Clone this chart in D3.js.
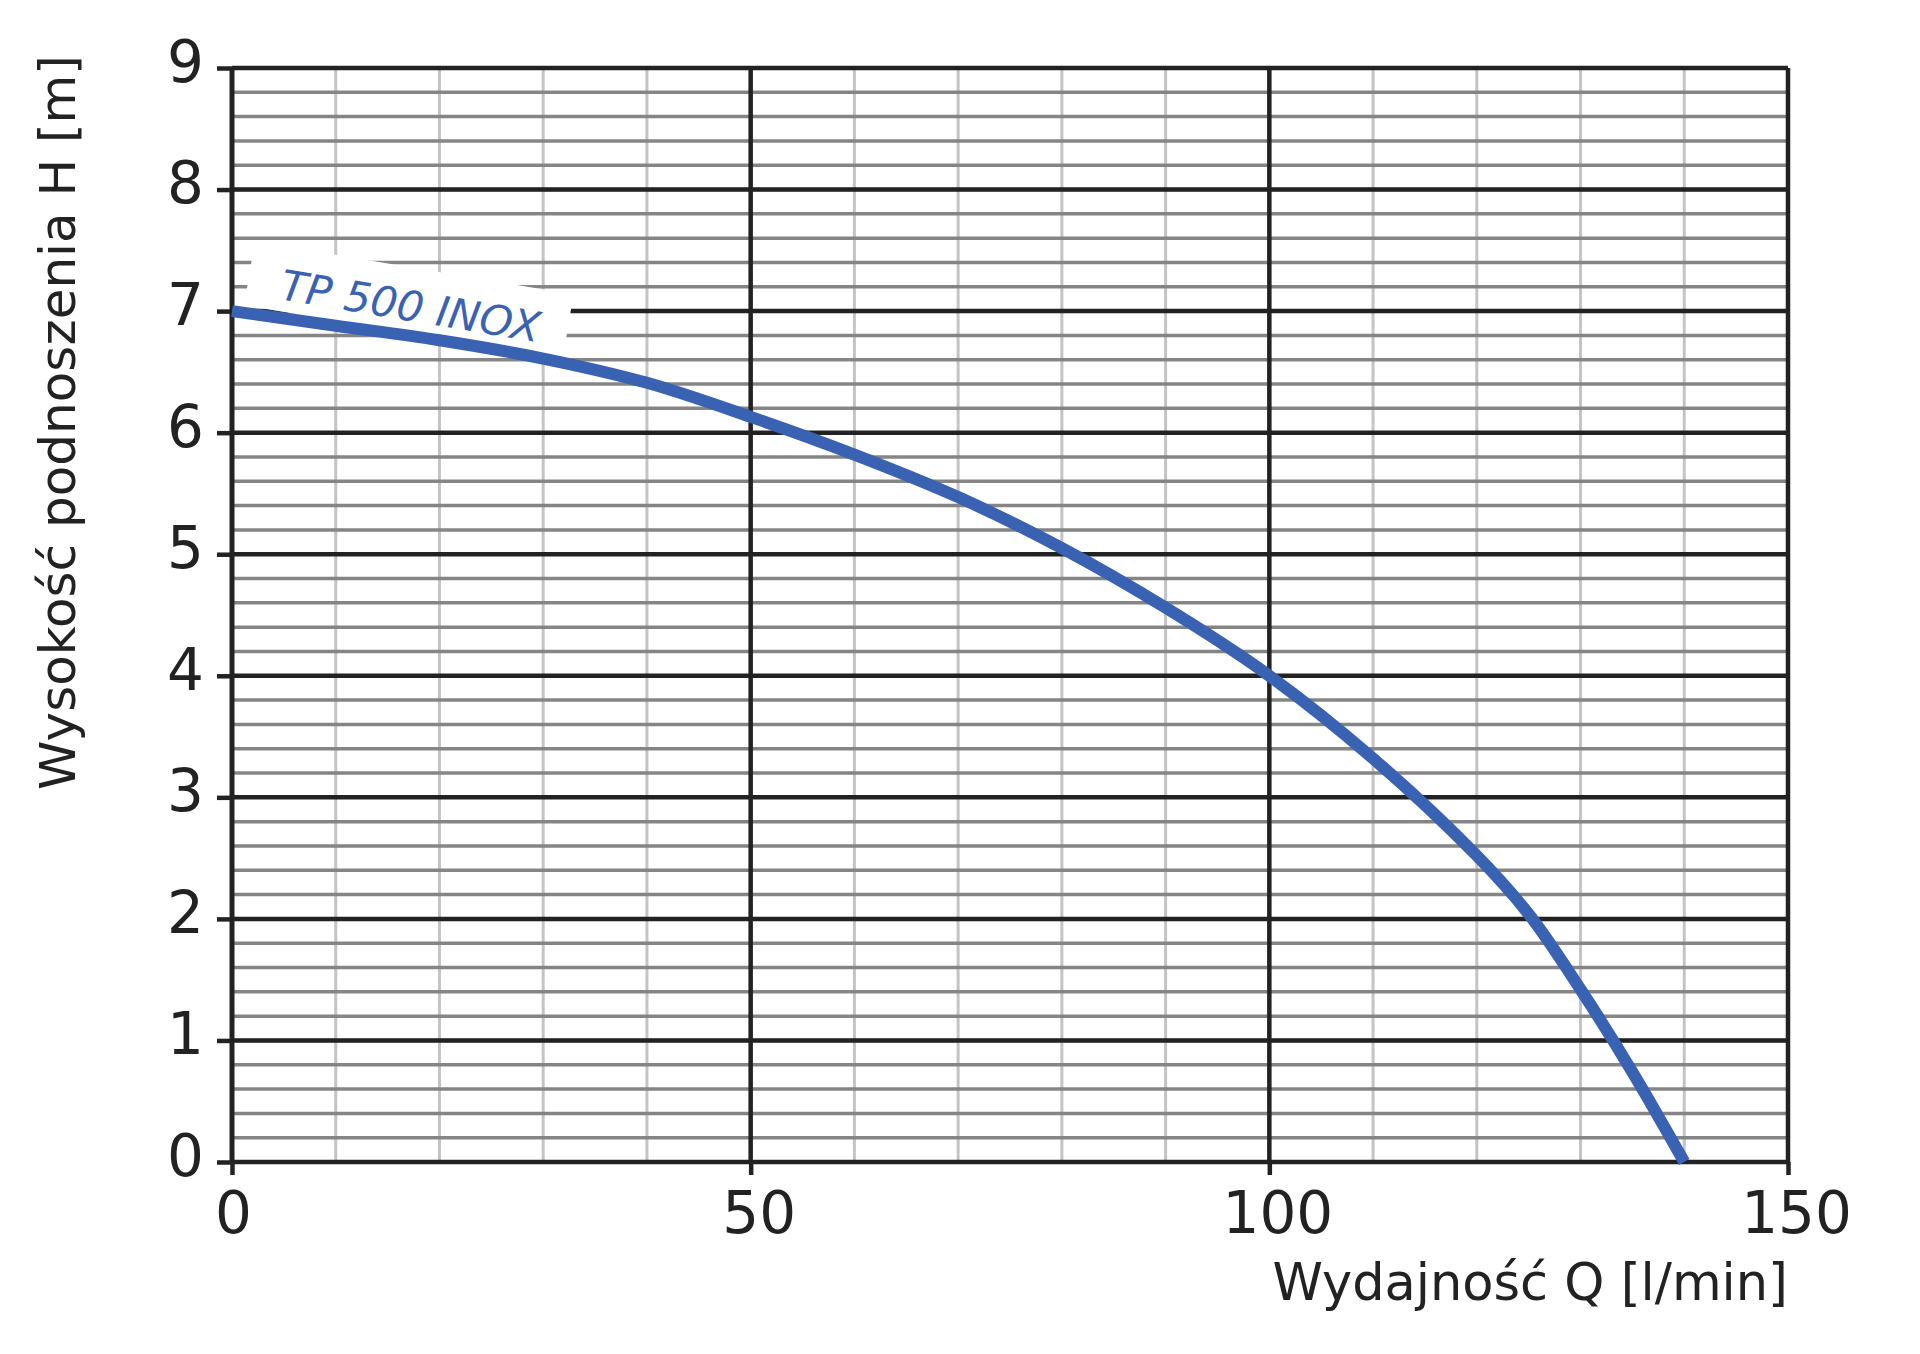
<!DOCTYPE html>
<html>
<head>
<meta charset="utf-8">
<style>
    body { margin: 0; background: #fff; }
    text { font-family: "DejaVu Sans", sans-serif; fill: #222; }
</style>
</head>
<body>
    <svg id="chart" width="1920" height="1354"></svg>
    <script src="https://d3js.org/d3.v7.min.js"></script>
    <script>
        // pump curve
        const flowQ = [0, 10, 20, 30, 40, 50, 60, 70, 80, 90, 100, 110, 120, 125, 130, 135, 140];
        const headH = [7.0, 6.88, 6.76, 6.61, 6.41, 6.13, 5.82, 5.47, 5.05, 4.56, 4.0, 3.32, 2.52, 2.04, 1.42, 0.74, 0.0];
        const xTickLabels = [0, 50, 100, 150];
        const yTickLabels = [0, 1, 2, 3, 4, 5, 6, 7, 8, 9];
        const seriesName = "TP 500 INOX";
        const xTitle = "Wydajność Q [l/min]";
        const yTitle = "Wysokość podnoszenia H [m]";

        const margin = {top: 68, right: 132, bottom: 192, left: 232};
        const W = 1920, H = 1354;
        const w = W - margin.left - margin.right;
        const h = H - margin.top - margin.bottom;
        const blue = "#3a62b3";

        const x = d3.scaleLinear().domain([0, 150]).range([0, w]);
        const y = d3.scaleLinear().domain([0, 9]).range([h, 0]);

        const svg = d3.select("#chart");
        svg.append("rect").attr("width", W).attr("height", H).attr("fill", "#fff");
        const g = svg.append("g").attr("transform", `translate(${margin.left},${margin.top})`);

        // minor verticals every 10
        g.selectAll(".vminor").data(x.ticks(15)).enter().append("line")
            .attr("x1", d => x(d)).attr("x2", d => x(d))
            .attr("y1", 0).attr("y2", h)
            .style("stroke", "#c4c4c4").style("stroke-width", 3);

        // minor horizontals every 0.2
        g.selectAll(".hminor").data(y.ticks(45)).enter().append("line")
            .attr("x1", 0).attr("x2", w)
            .attr("y1", d => y(d)).attr("y2", d => y(d))
            .style("stroke", "#858585").style("stroke-width", 3.5);

        // major horizontals
        g.selectAll(".hmajor").data(yTickLabels).enter().append("line")
            .attr("x1", 0).attr("x2", w)
            .attr("y1", d => y(d)).attr("y2", d => y(d))
            .style("stroke", "#222").style("stroke-width", 4.5);

        // major verticals
        g.selectAll(".vmajor").data(xTickLabels).enter().append("line")
            .attr("x1", d => x(d)).attr("x2", d => x(d))
            .attr("y1", 0).attr("y2", h)
            .style("stroke", "#222").style("stroke-width", d => d === 0 ? 5 : 4.5);

        // axes: tick stubs and labels
        const yAxis = g.append("g")
            .call(d3.axisLeft(y).tickValues(yTickLabels).tickSize(15).tickPadding(13).tickSizeOuter(0));
        const xAxis = g.append("g").attr("transform", `translate(0,${h})`)
            .call(d3.axisBottom(x).tickValues(xTickLabels).tickSize(13).tickPadding(17).tickSizeOuter(0));
        [yAxis, xAxis].forEach(a => {
            a.select(".domain").remove();
            a.selectAll(".tick line").style("stroke", "#222").style("stroke-width", 4.5);
            a.selectAll(".tick text").style("font-family", "'DejaVu Sans', sans-serif")
                .style("font-size", "58px").style("fill", "#222");
        });
        yAxis.selectAll(".tick text").attr("dy", "0.23em");
        xAxis.selectAll(".tick text").attr("dx", d => d === 0 ? 1 : 8);

        // series label on white patch
        const lab = g.append("g")
            .attr("transform", `translate(${x(4.5)},${y(7.1)}) rotate(9.5)`);
        lab.append("rect")
            .attr("x", -33).attr("y", -53).attr("width", 323).attr("height", 65)
            .attr("fill", "#fff");
        lab.append("text")
            .text(seriesName)
            .style("font-size", "42px").style("font-style", "italic")
            .style("fill", blue);

        // curve
        const pts = flowQ.map((q, i) => [q, headH[i]]);
        g.append("path")
            .datum(pts)
            .attr("d", d3.line().x(d => x(d[0])).y(d => y(d[1])).curve(d3.curveCatmullRom.alpha(0.5)))
            .style("fill", "none")
            .style("stroke", blue)
            .style("stroke-width", 12);

        // titles
        svg.append("text")
            .attr("transform", "translate(75,790) rotate(-90)")
            .style("font-size", "50px")
            .text(yTitle);
        svg.append("text")
            .attr("x", margin.left + w).attr("y", 1300)
            .attr("text-anchor", "end")
            .style("font-size", "51px")
            .text(xTitle);
    </script>
</body>
</html>
